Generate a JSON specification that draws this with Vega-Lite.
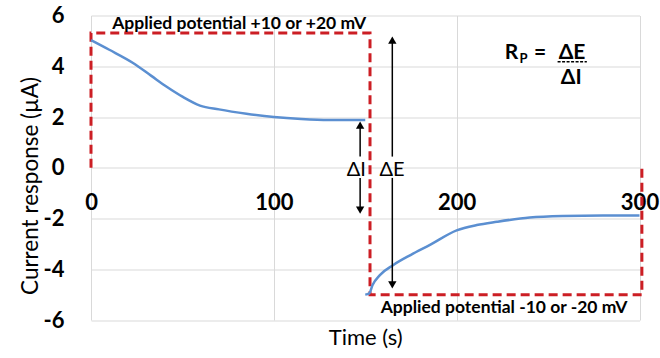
{
  "$schema": "https://vega.github.io/schema/vega-lite/v6.json",
  "width": 548.5,
  "height": 304.5,
  "autosize": "none",
  "padding": {"left": 91, "top": 15.5, "right": 20.5, "bottom": 38},
  "config": {"font": "Lato", "view": {"stroke": null}},
  "datasets": {
    "current": [
      {"seg": "A", "t": 0, "i": 5.03},
      {"seg": "A", "t": 10, "i": 4.65},
      {"seg": "A", "t": 23, "i": 4.13},
      {"seg": "A", "t": 33, "i": 3.62},
      {"seg": "A", "t": 41.4, "i": 3.19},
      {"seg": "A", "t": 50, "i": 2.8},
      {"seg": "A", "t": 59.6, "i": 2.45},
      {"seg": "A", "t": 70, "i": 2.3},
      {"seg": "A", "t": 85, "i": 2.13},
      {"seg": "A", "t": 100, "i": 2.0},
      {"seg": "A", "t": 115, "i": 1.92},
      {"seg": "A", "t": 130, "i": 1.88},
      {"seg": "A", "t": 150, "i": 1.88},
      {"seg": "B", "t": 150, "i": -5.0},
      {"seg": "B", "t": 152.2, "i": -4.95},
      {"seg": "B", "t": 154, "i": -4.62},
      {"seg": "B", "t": 158, "i": -4.23},
      {"seg": "B", "t": 165.4, "i": -3.83},
      {"seg": "B", "t": 175, "i": -3.43},
      {"seg": "B", "t": 185.4, "i": -3.04},
      {"seg": "B", "t": 200, "i": -2.47},
      {"seg": "B", "t": 211, "i": -2.26},
      {"seg": "B", "t": 222, "i": -2.13},
      {"seg": "B", "t": 240, "i": -1.96},
      {"seg": "B", "t": 258, "i": -1.9},
      {"seg": "B", "t": 280, "i": -1.88},
      {"seg": "B", "t": 300, "i": -1.88}
    ],
    "potential": [
      {"k": 1, "t": 0, "v": 0},
      {"k": 2, "t": 0, "v": 5.31},
      {"k": 3, "t": 152.6, "v": 5.31},
      {"k": 4, "t": 152.6, "v": -5.0},
      {"k": 5, "t": 301.3, "v": -5.0},
      {"k": 6, "t": 301.3, "v": 0}
    ],
    "arrows": [
      {"name": "dI up", "t": 147.2, "y1": 0.44, "y2": 1.7},
      {"name": "dI down", "t": 147.2, "y1": -0.4, "y2": -1.65},
      {"name": "dE up", "t": 164.8, "y1": 0.44, "y2": 5.05},
      {"name": "dE down", "t": 164.8, "y1": -0.4, "y2": -4.62}
    ],
    "heads": [
      {"name": "dI up", "t": 147.2, "y": 1.68, "dir": "up"},
      {"name": "dI down", "t": 147.2, "y": -1.67, "dir": "down"},
      {"name": "dE up", "t": 164.8, "y": 5.03, "dir": "up"},
      {"name": "dE down", "t": 164.8, "y": -4.62, "dir": "down"}
    ],
    "deltas": [
      {"t": 145.1, "y": -0.09, "label": "ΔI"},
      {"t": 164.6, "y": -0.09, "label": "ΔE"}
    ],
    "applied": [
      {"t": 81, "y": 5.68, "label": "Applied potential +10 or +20 mV"},
      {"t": 225.9, "y": -5.54, "label": "Applied potential -10 or -20 mV"}
    ],
    "formula": [
      {"t": 230.0, "y": 4.54, "label": "R"},
      {"t": 245.6, "y": 4.54, "label": "="},
      {"t": 263.1, "y": 4.54, "label": "ΔE"},
      {"t": 262.7, "y": 3.52, "label": "ΔI"}
    ],
    "subscript": [
      {"t": 236.6, "y": 4.3, "label": "P"}
    ],
    "fracbar": [
      {"t": 255.2, "t2": 271.2, "y": 4.18}
    ]
  },
  "layer": [
    {
      "data": {"name": "potential"},
      "mark": {"type": "line", "color": "#cc1e24", "strokeWidth": 3, "strokeDash": [9, 5], "clip": false},
      "encoding": {
        "x": {"field": "t", "type": "quantitative", "scale": {"domain": [0, 300], "nice": false},
          "axis": {"values": [0, 100, 200, 300], "title": "Time (s)", "offset": -152.25, "domain": false, "ticks": false,
            "labelFontSize": 22, "labelFontWeight": "bold", "labelColor": "#000", "labelPadding": 25,
            "labelBound": false, "labelFlush": false, "labelOverlap": false,
            "gridColor": "#d9d9d9", "gridWidth": 1,
            "titleFontSize": 22, "titleFontWeight": "normal", "titleColor": "#000",
            "titleY": 170, "titleBaseline": "middle"}},
        "y": {"field": "v", "type": "quantitative", "scale": {"domain": [-6, 6], "nice": false},
          "axis": {"values": [-6, -4, -2, 0, 2, 4, 6], "title": "Current response (µA)", "domain": false, "ticks": false,
            "labelExpr": "replace(datum.label, '−', '-')",
            "labelFontSize": 22, "labelFontWeight": "bold", "labelColor": "#000", "labelPadding": 27,
            "gridColor": "#d9d9d9", "gridWidth": 1,
            "titleFontSize": 22.5, "titleFontWeight": "normal", "titleColor": "#000",
            "titleX": -61, "titleY": 170, "titleAlign": "center", "titleBaseline": "middle"}},
        "order": {"field": "k", "type": "quantitative"}
      }
    },
    {
      "data": {"name": "current"},
      "mark": {"type": "line", "color": "#5b8fd1", "strokeWidth": 2.5, "interpolate": "monotone"},
      "encoding": {
        "x": {"field": "t", "type": "quantitative"},
        "y": {"field": "i", "type": "quantitative"},
        "detail": {"field": "seg"}
      }
    },
    {
      "data": {"name": "arrows"},
      "mark": {"type": "rule", "color": "#000", "strokeWidth": 1.5},
      "encoding": {
        "x": {"field": "t", "type": "quantitative"},
        "y": {"field": "y1", "type": "quantitative"},
        "y2": {"field": "y2"}
      }
    },
    {
      "data": {"name": "heads"},
      "mark": {"type": "point", "filled": true, "color": "#000", "opacity": 1, "size": 70},
      "encoding": {
        "x": {"field": "t", "type": "quantitative"},
        "y": {"field": "y", "type": "quantitative"},
        "shape": {"field": "dir", "type": "nominal", "scale": {"domain": ["up", "down"], "range": ["triangle-up", "triangle-down"]}, "legend": null}
      }
    },
    {
      "data": {"name": "deltas"},
      "mark": {"type": "text", "fontSize": 20, "color": "#000", "baseline": "middle", "align": "center"},
      "encoding": {
        "x": {"field": "t", "type": "quantitative"},
        "y": {"field": "y", "type": "quantitative"},
        "text": {"field": "label"}
      }
    },
    {
      "data": {"name": "applied"},
      "mark": {"type": "text", "fontSize": 17.5, "fontWeight": "bold", "color": "#000", "baseline": "middle", "align": "center"},
      "encoding": {
        "x": {"field": "t", "type": "quantitative"},
        "y": {"field": "y", "type": "quantitative"},
        "text": {"field": "label"}
      }
    },
    {
      "data": {"name": "formula"},
      "mark": {"type": "text", "fontSize": 21, "fontWeight": "bold", "color": "#000", "baseline": "middle", "align": "center"},
      "encoding": {
        "x": {"field": "t", "type": "quantitative"},
        "y": {"field": "y", "type": "quantitative"},
        "text": {"field": "label"}
      }
    },
    {
      "data": {"name": "subscript"},
      "mark": {"type": "text", "fontSize": 13, "fontWeight": "bold", "color": "#000", "baseline": "middle", "align": "center"},
      "encoding": {
        "x": {"field": "t", "type": "quantitative"},
        "y": {"field": "y", "type": "quantitative"},
        "text": {"field": "label"}
      }
    },
    {
      "data": {"name": "fracbar"},
      "mark": {"type": "rule", "color": "#000", "strokeWidth": 1.5, "strokeDash": [3, 1.5]},
      "encoding": {
        "x": {"field": "t", "type": "quantitative"},
        "x2": {"field": "t2"},
        "y": {"field": "y", "type": "quantitative"}
      }
    }
  ]
}
